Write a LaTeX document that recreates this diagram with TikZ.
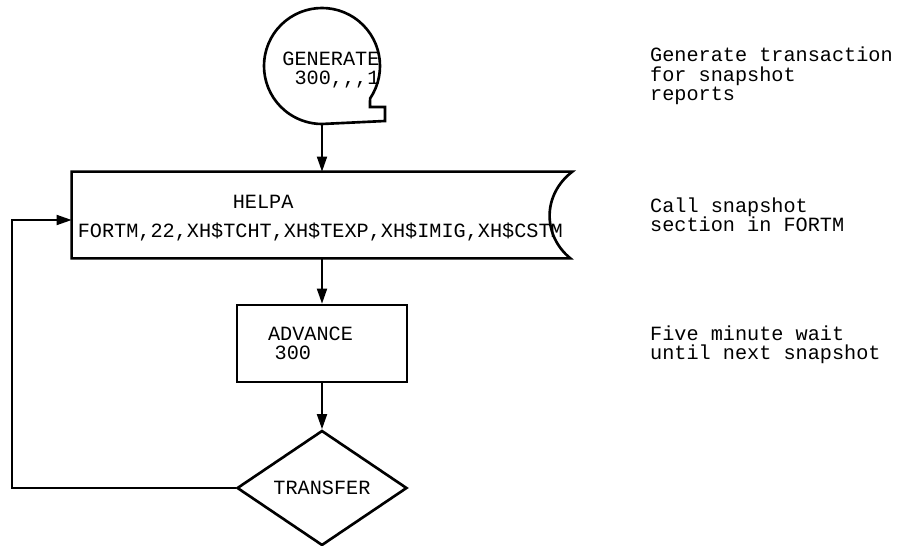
\documentclass[tikz,border=0pt]{standalone}
\usepackage{fontspec}
\setmonofont{Liberation Mono}
\usepackage{tikz}
\usetikzlibrary{arrows.meta,shapes.geometric}

\begin{document}
\begin{tikzpicture}[>={Triangle[length=3mm,width=2mm]},font=\ttfamily\fontsize{11.5}{11}\selectfont,line cap=round,
  block/.style={line width=1.5pt},link/.style={line width=1pt,->}]
\useasboundingbox (0,0) rectangle (17.98,-10.92);
\node[circle,minimum size=2.32cm,inner sep=0] (gen) at (6.44,-1.32) {};
\draw[block] ([shift={(-34:1.16)}]gen.center) arc[start angle=-34,end angle=270,radius=1.16] -- ++(1.26,0.06) -- ++(0,0.28) -- ++(-0.30,0) -- cycle;
\node[align=left] (gentext) at (6.62,-1.40) {GENERATE\\~300,,,1};
\node[minimum width=10cm,minimum height=1.72cm,inner sep=0] (helpa) at (6.44,-4.30) {};
\draw[block] (helpa.north west) -- (helpa.north east) .. controls +(-0.6,-0.46) and +(-0.56,0.46) .. ([xshift=-0.04cm]helpa.south east) -- (helpa.south west) -- cycle;
\node[anchor=west,align=left] (helpatext) at ([xshift=0.0cm,yshift=-0.06cm]helpa.west) {\hspace*{3.1cm}HELPA\\[0.2cm]FORTM,22,XH\$TCHT,XH\$TEXP,XH\$IMIG,XH\$CSTM};
\node[draw,block,minimum width=3.4cm,minimum height=1.54cm,align=left,text width=2.16cm,inner xsep=0.62cm] (advance) at (6.44,-6.87) {ADVANCE\\~300};
\node[draw,block,diamond,minimum width=3.4cm,minimum height=2.3cm,inner sep=0] (transfer) at (6.44,-9.76) {TRANSFER};
\draw[link] (gen.south) -- (helpa.north);
\draw[link] (helpa.south) -- (advance.north);
\draw[link] (advance.south) -- (transfer.north);
\draw[link] (transfer.west) -| ([xshift=-1.2cm,yshift=-0.1cm]helpa.west) -- ([yshift=-0.1cm]helpa.west);
\node[anchor=west,align=left] (note1) at (12.88,-1.52) {Generate transaction\\for snapshot\\reports};
\node[anchor=west,align=left] (note2) at (12.88,-4.30) {Call snapshot\\section in FORTM};
\node[anchor=west,align=left] (note3) at (12.88,-6.90) {Five minute wait\\until next snapshot};
\end{tikzpicture}
\end{document}
